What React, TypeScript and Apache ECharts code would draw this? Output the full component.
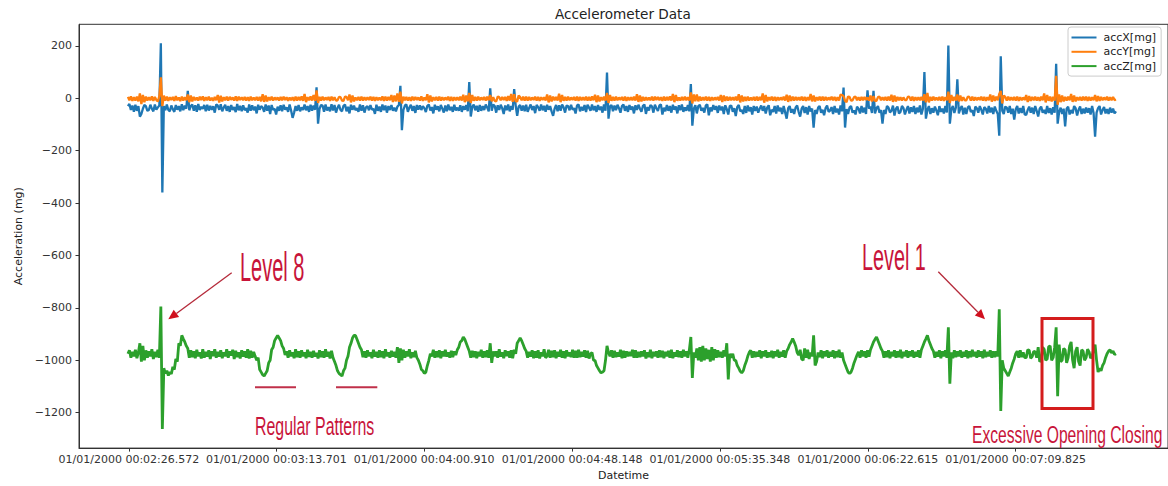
import React, { useEffect, useRef } from "react";
import * as echarts from "echarts";

// Sample timing (seconds after midnight, 01/01/2000)
const sampleStart = 146.253;
const samplePeriod = 0.4783;

const xTickValues = [146.572, 193.701, 240.91, 288.148, 335.348, 382.615, 429.825];
const xTickLabels = [
  "01/01/2000 00:02:26.572",
  "01/01/2000 00:03:13.701",
  "01/01/2000 00:04:00.910",
  "01/01/2000 00:04:48.148",
  "01/01/2000 00:05:35.348",
  "01/01/2000 00:06:22.615",
  "01/01/2000 00:07:09.825",
];
const yTickValues = [-1200, -1000, -800, -600, -400, -200, 0, 200];

const seriesNames = ["accX[mg]", "accY[mg]", "accZ[mg]"];

const accX = [
  -30,-22,-45,-28,-52,-25,-48,-30,-70,-60,-40,-26,-30,-48,-45,-25,-40,-50,-24,-44,
  -35,-28,210,-360,-30,-46,-24,-45,-50,-28,-42,-52,-26,-44,-30,-50,-23,-46,-28,-40,
  28,-46,-30,-24,-48,-27,-52,-22,-45,-33,-40,-26,-50,-25,-47,-29,-44,-31,-55,-24,
  -28,-44,-23,-50,-36,-25,-48,-30,-52,-26,-45,-34,-53,-22,-46,-29,-50,-27,-46,-38,
  -55,-24,-48,-27,-46,-32,-58,-25,-44,-30,-36,-52,-24,-48,-28,-60,-26,-45,-40,-62,
  -32,-48,-27,-50,-25,-44,-35,-52,-24,-47,-75,-55,-30,-48,-26,-50,-35,-45,-24,-46,
  -30,-52,-25,-48,-28,-44,42,-97,-40,-26,-28,-52,-24,-47,-34,-50,-23,-47,-26,-55,
  -37,-25,-45,-50,-29,-24,-50,-33,-58,-25,-44,-28,-46,-38,-52,-24,-48,-27,-55,-35,
  -30,-46,-26,-44,-40,-60,-25,-48,-32,-52,-24,-46,-28,-55,-30,-45,-26,-48,-36,-50,
  -32,-26,47,-122,-45,-28,-24,-52,-36,-25,-48,-30,-56,-26,-44,-27,-45,-30,-38,-53,
  -29,-24,-47,-34,-58,-25,-44,-31,-50,-26,-40,-55,-28,-50,-24,-46,-33,-52,-25,-47,
  -36,-48,-27,-52,-30,-44,-26,-50,62,-70,-33,-24,-46,-29,-52,-26,-48,-30,-45,-24,
  -36,-50,38,-48,-24,-30,-55,-27,-45,-25,-38,-60,-28,-46,-24,-50,-30,-44,35,-28,
  -67,-32,-26,-48,-28,-50,-25,-52,-37,-24,-45,-30,-57,-26,-34,-48,-24,-46,-29,-52,
  -25,-44,-30,-50,-67,-40,-26,-50,-27,-48,-24,-35,-55,-28,-30,-46,-25,-44,-38,-58,
  -28,-24,-50,-33,-47,-26,-53,-25,-36,-48,-24,-46,-30,-52,-26,-45,-32,-55,-24,-48,
  98,-78,-32,-26,-50,-28,-46,-25,-38,-55,-30,-24,-48,-30,-52,-26,-44,-32,-58,-27,
  -45,-25,-40,-52,-29,-24,-60,-34,-47,-26,-31,-55,-25,-38,-49,-28,-24,-62,-36,-50,
  -26,-48,-30,-55,-25,-44,-32,-58,-27,-46,-24,-52,-35,-48,-26,-50,54,-105,-40,-27,
  -58,-30,-25,-48,-37,-55,-28,-24,-65,-35,-50,-26,-44,-30,-56,-28,-46,-32,-60,-27,
  -42,-62,-30,-28,-52,-38,-68,-33,-26,-50,-45,-60,-30,-56,-28,-50,-34,-62,-30,-48,
  -32,-55,-40,-28,-48,-30,-58,-36,-27,-65,-44,-52,-30,-58,-28,-50,-36,-60,-30,-54,
  -78,-38,-30,-55,-42,-60,-35,-28,-52,-70,-40,-30,-56,-34,-62,-30,-50,-40,-112,-45,
  -60,-36,-30,-55,-44,-65,-38,-28,-52,-47,-34,-60,-30,-54,-40,-62,-28,-50,41,-112,
  -42,-60,-35,-30,-55,-46,-62,-32,-40,-58,-30,-54,-36,-60,30,-40,-32,-56,28,-58,
  -38,-30,-55,-45,-97,-45,-60,-30,-36,-54,-48,-28,-66,-40,-32,-58,-52,-30,-37,-62,
  -44,-30,-58,-35,-52,-30,-60,-36,-54,-28,-62,-40,100,-78,-45,-30,-60,-38,-55,-32,
  -47,-65,-30,-52,-40,-58,-30,-54,201,-97,-42,-30,-56,-36,72,-58,-40,-30,-62,-36,
  -60,-35,-30,-52,-46,-68,-32,-38,-55,-30,-44,-62,-34,-40,-58,-30,-54,-36,-60,-32,
  -48,-60,-143,160,-48,-60,-32,-36,-55,-30,-60,-40,-82,-42,-30,-58,-38,-56,-30,-62,
  -64,-45,-32,-55,-36,-60,-30,-48,-70,-40,-32,-55,-45,-60,-30,-56,-38,-62,-34,-55,
  131,-97,-52,-36,-60,-40,-108,-40,-32,-62,-45,-58,-30,-38,-66,-44,-32,-60,-40,-58,
  -36,-55,-38,-62,-30,-56,-147,-55,-38,-30,-62,-45,-34,-58,-42,-60,-36,-55,-40,-58,
  -50,
];

const accY = [
  5,-8,7,-10,4,-9,6,-12,18,-22,12,-15,6,-9,4,-8,7,-10,5,-7,
  -12,8,80,-30,10,-9,6,-10,4,-7,5,-10,8,-8,3,-11,6,-9,4,-8,
  14,-15,10,-12,5,-8,3,-9,6,-7,7,-10,4,-8,6,-9,2,-10,5,-8,
  12,-16,9,-12,4,-8,6,-9,5,-6,3,-9,7,-10,6,-7,4,-8,5,-9,
  4,-10,6,-8,3,-8,5,-9,5,-12,15,-14,10,-12,4,-8,6,-9,3,-7,
  3,-9,5,-8,6,-7,4,-10,3,-8,4,-10,6,-9,5,-8,7,-10,16,-15,
  4,-8,7,-9,12,-10,30,-18,5,-9,6,-8,3,-7,5,-10,6,-8,4,-9,
  -8,5,4,-9,-10,6,5,-8,14,-16,10,-12,3,-8,5,-9,6,-9,4,-8,
  4,-7,6,-9,5,-10,4,-8,3,-8,7,-10,6,-9,5,-8,12,-14,10,-12,
  18,-14,25,-20,6,-8,5,-9,4,-10,6,-8,5,-7,3,-9,7,-10,3,-8,
  15,-16,10,-12,4,-8,5,-9,6,-9,4,-8,3,-7,6,-10,5,-10,4,-8,
  4,-8,6,-9,13,-15,10,-12,20,-18,12,-10,5,-9,6,-8,3,-7,5,-9,
  6,-8,12,-12,4,-10,-12,6,4,-8,5,-7,5,-10,8,-9,16,-14,15,-12,
  -12,10,4,-8,6,-9,6,-9,5,-8,3,-7,6,-9,5,-10,4,-7,4,-9,
  14,-16,10,-12,6,-8,5,-9,17,-15,12,-10,5,-9,6,-8,3,-7,5,-9,
  6,-10,5,-8,4,-8,6,-9,5,-9,7,-8,13,-15,10,-12,4,-8,6,-9,
  20,-18,12,-10,5,-9,6,-8,3,-7,5,-9,6,-10,4,-8,4,-8,6,-9,
  15,-14,10,-12,5,-9,4,-8,3,-8,6,-9,6,-7,5,-8,4,-10,6,-9,
  5,-8,7,-9,16,-15,12,-10,3,-9,5,-8,6,-8,4,-9,22,-20,14,-12,
  14,-12,6,-9,4,-8,6,-9,5,-10,4,-8,3,-7,5,-9,12,-14,10,-10,
  6,-9,5,-8,4,-8,6,-9,15,-16,10,-12,5,-10,6,-9,3,-8,5,-9,
  6,-9,5,-8,18,-17,12,-12,4,-8,6,-9,5,-10,4,-8,3,-7,6,-9,
  13,-14,10,-10,6,-9,5,-8,4,-8,6,-9,5,-10,4,-8,16,-12,10,-12,
  4,-8,6,-9,6,-9,5,-8,3,-7,6,-8,5,-10,4,-9,14,12,8,-10,
  -15,6,5,-9,-8,4,6,-8,4,-9,5,-8,5,-7,3,-9,10,-12,8,-10,
  -10,4,6,-8,4,-8,5,-9,6,-9,13,-14,10,-12,5,-8,4,-9,3,-7,
  -7,6,5,-9,6,-10,4,-8,4,-8,5,-9,15,-16,20,-16,5,-9,6,-8,
  3,-8,5,-9,6,-10,4,-8,25,-18,12,-10,5,-9,14,-12,10,-10,4,-8,
  -8,6,5,-9,6,-9,4,-8,3,-7,6,-9,5,-10,4,-8,14,-13,10,-10,
  6,-8,16,28,-20,10,5,-9,6,-8,4,-8,5,-9,6,-10,4,-8,3,-7,
  12,-14,8,-10,5,-8,6,-9,4,-10,6,-8,18,-16,12,-10,6,-12,5,-9,
  85,-25,14,-15,10,-12,5,-9,6,-8,16,-14,10,-12,4,-8,5,-9,6,-8,
  6,-10,5,-9,4,-8,12,-12,8,-10,5,-8,3,-7,6,-9,4,-8,5,-7,
  -5,
];

const accZ = [
  -975,-962,-990,-968,-985,-960,-992,-970,-935,-1005,-945,-1000,-962,-990,-966,-985,-958,-995,-968,-988,
  -960,-990,-795,-1262,-1030,-1050,-1040,-1058,-1045,-1052,-1025,-1035,-995,-1005,-935,-945,-905,-918,-930,-945,
  -955,-990,-962,-988,-966,-992,-960,-985,-970,-993,-958,-990,-968,-986,-962,-995,-966,-984,-958,-990,
  -968,-986,-962,-992,-970,-984,-958,-990,-966,-982,-960,-995,-964,-988,-970,-993,-962,-986,-966,-990,
  -958,-993,-964,-990,-968,-985,-1000,-990,-1035,-1045,-1055,-1060,-1050,-1040,-1010,-1000,-960,-950,-925,-915,
  -905,-915,-925,-945,-955,-980,-966,-990,-962,-985,-970,-992,-958,-988,-966,-990,-962,-984,-970,-992,
  -960,-987,-968,-990,-964,-985,-972,-993,-962,-988,-966,-990,-958,-986,-968,-993,-964,-990,-1005,-1020,
  -1040,-1050,-1055,-1060,-1040,-1030,-1000,-985,-950,-935,-915,-905,-905,-920,-935,-950,-960,-988,-966,-990,
  -962,-985,-970,-992,-960,-986,-968,-990,-962,-988,-966,-992,-958,-985,-970,-990,-964,-986,-968,-990,
  -950,-1010,-955,-1000,-960,-990,-966,-985,-958,-992,-970,-988,-964,-990,-1000,-1015,-1035,-1040,-1050,-1045,
  -1020,-1000,-975,-985,-960,-990,-966,-988,-962,-992,-966,-985,-960,-986,-970,-990,-964,-988,-966,-980,
  -960,-950,-930,-925,-911,-920,-935,-950,-965,-990,-964,-988,-966,-992,-968,-985,-960,-990,-966,-988,
  -962,-990,-935,-1010,-966,-985,-966,-990,-958,-986,-970,-992,-962,-984,-966,-990,-962,-992,-960,-975,
  -935,-925,-915,-925,-940,-955,-965,-990,-968,-986,-962,-992,-966,-990,-962,-993,-970,-985,-958,-990,
  -984,-960,-990,-964,-988,-962,-992,-968,-986,-960,-990,-966,-992,-962,-985,-970,-988,-960,-990,-964,
  -990,-960,-988,-968,-986,-962,-990,-964,-993,-975,-970,-1000,-1000,-1020,-1030,-1040,-1048,-1045,-1040,-1000,
  -945,-970,-985,-962,-990,-964,-988,-970,-986,-960,-992,-964,-990,-966,-985,-968,-984,-960,-990,-962,
  -990,-968,-988,-966,-985,-962,-993,-970,-988,-960,-992,-968,-985,-966,-990,-962,-988,-964,-992,-968,
  -985,-964,-990,-960,-992,-970,-986,-962,-988,-966,-990,-960,-985,-966,-990,-960,-911,-1067,-970,-990,
  -955,-1000,-950,-1005,-945,-1000,-955,-995,-960,-1005,-950,-1000,-958,-990,-962,-988,-968,-990,-962,-985,
  -935,-1073,-975,-990,-975,-1000,-1000,-1020,-1030,-1042,-1048,-1040,-1020,-1005,-985,-970,-962,-990,-966,-988,
  -968,-986,-962,-992,-966,-985,-962,-990,-970,-988,-964,-992,-966,-985,-960,-990,-968,-986,-962,-990,
  -965,-955,-940,-930,-917,-930,-945,-970,-980,-960,-995,-1000,-955,-990,-960,-995,-970,-985,-905,-1020,
  -1005,-970,-988,-962,-992,-966,-985,-962,-990,-968,-986,-962,-992,-966,-988,-960,-990,-970,-1000,-1015,
  -1030,-1045,-1050,-1045,-1030,-1010,-995,-980,-968,-990,-962,-985,-966,-990,-962,-986,-960,-945,-930,-920,
  -911,-925,-940,-955,-965,-990,-966,-988,-962,-992,-968,-985,-962,-990,-966,-988,-960,-992,-968,-985,
  -962,-990,-966,-985,-962,-990,-968,-986,-962,-990,-960,-945,-930,-918,-905,-925,-940,-955,-965,-990,
  -968,-986,-962,-992,-966,-985,-962,-990,-874,-1089,-970,-992,-962,-988,-966,-985,-962,-990,-968,-986,
  -962,-992,-966,-988,-960,-985,-968,-990,-962,-986,-966,-992,-960,-988,-968,-985,-962,-990,-966,-988,
  -966,-985,-805,-1193,-1000,-1030,-1040,-1050,-1060,-1045,-1030,-1010,-995,-975,-965,-990,-962,-988,-970,-990,
  -990,-960,-962,-992,-986,-966,-968,-990,-950,-1005,-1000,-950,-958,-1000,-995,-948,-945,-1000,-990,-950,
  -874,-1137,-940,-1005,-1000,-955,-960,-1010,-990,-945,-930,-1000,-1030,-965,-950,-1005,-1020,-960,-965,-1000,
  -990,-958,-968,-992,-985,-960,-940,-1000,-1045,-1030,-1040,-1020,-1010,-990,-975,-965,-960,-972,-965,-978,
  -975,
];

const colors = ["#1f77b4", "#ff7f0e", "#2ca02c"];
const annoRed = "#c8143a";
const FONT = "DejaVu Sans";
const ANNO_FONT = "Liberation Sans";

const toPairs = (arr: number[]) => arr.map((v, i) => [sampleStart + i * samplePeriod, v]);

function fmtY(v: number) {
  return v < 0 ? "\u2212" + Math.abs(v) : String(v);
}
function fmtX(v: number) {
  const k = xTickValues.findIndex((t) => Math.abs(t - v) < 0.01);
  return k >= 0 ? xTickLabels[k] : "";
}

function annoText(text: string, x: number, y: number, size: number, sx: number) {
  return {
    type: "text",
    x,
    y,
    scaleX: sx,
    z: 100,
    style: {
      text,
      fill: annoRed,
      fontFamily: ANNO_FONT,
      fontSize: size,
      align: "left",
      verticalAlign: "middle",
    },
  };
}

export default function App() {
  const ref = useRef<HTMLDivElement>(null);
  useEffect(() => {
    const chart = echarts.init(ref.current!, null, { renderer: "svg" });
    const option: any = {
      animation: false,
      backgroundColor: "#ffffff",
      title: {
        text: "Accelerometer Data",
        left: 555,
        top: 7,
        padding: 0,
        textStyle: { fontFamily: FONT, fontSize: 13.6, fontWeight: "normal", color: "#222" },
      },
      legend: {
        data: seriesNames,
        orient: "vertical",
        left: 1068,
        top: 27,
        padding: [4.5, 5, 4, 3.5],
        itemGap: 2.3,
        itemWidth: 25,
        itemHeight: 2,
        icon: "rect",
        borderColor: "#cccccc",
        borderWidth: 1,
        borderRadius: 3,
        backgroundColor: "rgba(255,255,255,0.85)",
        textStyle: { fontFamily: FONT, fontSize: 11, color: "#222", lineHeight: 12, padding: [0, 0, 0, 2] },
      },
      grid: {
        left: 79,
        top: 24.3,
        width: 1091,
        height: 430,
        show: true,
        borderColor: "#333",
        borderWidth: 1,
        backgroundColor: "transparent",
      },
      xAxis: {
        type: "value",
        min: 130.628,
        max: 478.53,
        name: "Datetime",
        nameLocation: "middle",
        nameGap: 20.5,
        nameTextStyle: { fontFamily: FONT, fontSize: 11, color: "#222" },
        axisLine: { show: true, onZero: false, lineStyle: { color: "#333", width: 1 } },
        axisTick: { show: true, length: 3.5, lineStyle: { color: "#333" }, customValues: xTickValues },
        axisLabel: {
          customValues: xTickValues,
          formatter: fmtX,
          fontFamily: FONT,
          fontSize: 11,
          color: "#333",
          margin: 6,
        },
        splitLine: { show: false },
      },
      yAxis: {
        type: "value",
        min: -1335,
        max: 282,
        name: "Acceleration (mg)",
        nameLocation: "middle",
        nameGap: 54,
        nameTextStyle: { fontFamily: FONT, fontSize: 11, color: "#222" },
        axisLine: { show: true, onZero: false, lineStyle: { color: "#333", width: 1 } },
        axisTick: { show: true, length: 3.5, lineStyle: { color: "#333" }, customValues: yTickValues },
        axisLabel: {
          customValues: yTickValues,
          formatter: fmtY,
          fontFamily: FONT,
          fontSize: 11,
          color: "#333",
          margin: 7,
        },
        splitLine: { show: false },
      },
      series: [
        { name: seriesNames[0], type: "line", data: toPairs(accX), showSymbol: false, symbol: "none", lineStyle: { color: colors[0], width: 2.3, join: "bevel" }, itemStyle: { color: colors[0] }, z: 2 },
        { name: seriesNames[1], type: "line", data: toPairs(accY), showSymbol: false, symbol: "none", lineStyle: { color: colors[1], width: 2.3, join: "bevel" }, itemStyle: { color: colors[1] }, z: 3 },
        { name: seriesNames[2], type: "line", data: toPairs(accZ), showSymbol: false, symbol: "none", lineStyle: { color: colors[2], width: 2.8, join: "bevel" }, itemStyle: { color: colors[2] }, z: 4 },
      ],
      graphic: [
        annoText("Level 8", 240, 267.5, 40, 0.5),
        annoText("Level 1", 862, 258, 36, 0.55),
        annoText("Regular Patterns", 255, 426, 25, 0.636),
        annoText("Excessive Opening Closing", 972, 435, 24, 0.652),
        { type: "line", z: 100, shape: { x1: 231.7, y1: 272.7, x2: 176.4, y2: 313.4 }, style: { stroke: "#b52a3a", lineWidth: 1.3 } },
        { type: "polygon", z: 100, shape: { points: [[168.3, 319.3], [179.1, 317.0], [173.7, 309.8]] }, style: { fill: "#d0101e" } },
        { type: "line", z: 100, shape: { x1: 938.3, y1: 271.7, x2: 978, y2: 312.2 }, style: { stroke: "#b52a3a", lineWidth: 1.3 } },
        { type: "polygon", z: 100, shape: { points: [[985, 319.3], [974.8, 315.4], [981.2, 309.1]] }, style: { fill: "#d0101e" } },
        { type: "line", z: 100, shape: { x1: 255, y1: 387.3, x2: 296, y2: 387.3 }, style: { stroke: "#c0304a", lineWidth: 2 } },
        { type: "line", z: 100, shape: { x1: 336, y1: 387.3, x2: 377.3, y2: 387.3 }, style: { stroke: "#c0304a", lineWidth: 2 } },
        { type: "rect", z: 100, shape: { x: 1042, y: 318.5, width: 51, height: 90 }, style: { fill: "none", stroke: "#d41c1c", lineWidth: 3 } },
      ],
    };
    chart.setOption(option);
    return () => chart.dispose();
  }, []);
  return (
    <div
      ref={ref}
      style={{ position: "fixed", left: 0, top: 0, width: 1168, height: 486, background: "#fff" }}
    />
  );
}
